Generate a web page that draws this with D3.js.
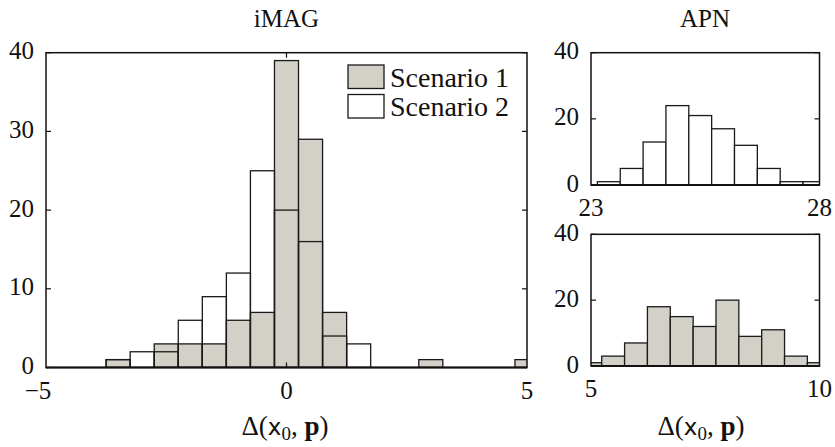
<!DOCTYPE html>
<html>
<head>
<meta charset="utf-8">
<script src="https://cdn.jsdelivr.net/npm/d3@7"></script>
<style>
  body { margin: 0; background: #fff; }
  text { font-family: "Liberation Serif", "Times New Roman", serif; fill: #111; }
</style>
</head>
<body>
<script>
// iMAG histogram: lower bin edges (width 0.5) and counts per scenario
const imagEdges = [-3.75, -3.25, -2.75, -2.25, -1.75, -1.25, -0.75, -0.25, 0.25, 0.75, 1.25, 1.75, 2.25, 2.75, 3.25, 3.75, 4.25, 4.75];
const imagScenario1 = [1, 0, 3, 3, 3, 6, 7, 39, 29, 7, 0, 0, 0, 1, 0, 0, 0, 1];
const imagScenario2 = [1, 2, 2, 6, 9, 12, 25, 20, 16, 4, 3, 0, 0, 0, 0, 0, 0, 0];

// APN histograms
const apnEdges2 = [22.64, 23.14, 23.64, 24.14, 24.64, 25.14, 25.64, 26.14, 26.64, 27.14, 27.64];
const apnScenario2 = [0, 1, 5, 13, 24, 21, 17, 12, 5, 1, 1];
const apnEdges1 = [4.735, 5.235, 5.735, 6.235, 6.735, 7.235, 7.735, 8.235, 8.735, 9.235, 9.735];
const apnScenario1 = [1, 3, 7, 18, 15, 12, 20, 9, 11, 3, 1];

const binWidth = 0.5;
const legendLabels = ["Scenario 1", "Scenario 2"];

const width = 835, height = 447;
const gray = "#d3d0c8";

const svg = d3.select("body").append("svg")
    .attr("width", width)
    .attr("height", height)
    .attr("viewBox", [0, 0, width, height]);

let clipId = 0;

function panel({xDomain, xRange, yDomain, yRange, xTicks, yTicks, xMirrorTicks = []}) {
    const x = d3.scaleLinear(xDomain, xRange);
    const y = d3.scaleLinear(yDomain, yRange);
    const g = svg.append("g");
    const id = "clip" + (clipId++);
    g.append("clipPath").attr("id", id)
        .append("rect")
        .attr("x", xRange[0]).attr("y", yRange[1])
        .attr("width", xRange[1] - xRange[0])
        .attr("height", yRange[0] - yRange[1]);
    const bars = g.append("g").attr("clip-path", `url(#${id})`);

    // left y tick labels
    g.append("g").selectAll("text")
        .data(yTicks)
        .join("text")
        .attr("x", xRange[0] - 12)
        .attr("y", d => y(d) - 2)
        .attr("text-anchor", "end")
        .attr("dominant-baseline", "central")
        .style("font-size", "25px")
        .text(d => d);

    // x tick labels (negative ones sit a little left, the minus is wide)
    g.append("g").selectAll("text")
        .data(xTicks)
        .join("text")
        .attr("x", d => x(d) - (d < 0 ? 8 : 0))
        .attr("y", yRange[0] + 31)
        .attr("text-anchor", "middle")
        .style("font-size", "25px")
        .text(d => d < 0 ? "\u2212" + Math.abs(d) : d);

    return {x, y, g, bars, draw() {
        // inward ticks on all four sides
        const t = g.append("g").attr("stroke", "#111").attr("stroke-width", 1.2);
        yTicks.forEach(v => {
            t.append("line").attr("x1", xRange[0]).attr("x2", xRange[0] + 5).attr("y1", y(v)).attr("y2", y(v));
            t.append("line").attr("x1", xRange[1]).attr("x2", xRange[1] - 5).attr("y1", y(v)).attr("y2", y(v));
        });
        xMirrorTicks.forEach(v => {
            t.append("line").attr("x1", x(v)).attr("x2", x(v)).attr("y1", yRange[1]).attr("y2", yRange[1] + 5);
            t.append("line").attr("x1", x(v)).attr("x2", x(v)).attr("y1", yRange[0]).attr("y2", yRange[0] - 5);
        });
        g.append("rect")
            .attr("x", xRange[0]).attr("y", yRange[1])
            .attr("width", xRange[1] - xRange[0])
            .attr("height", yRange[0] - yRange[1])
            .attr("fill", "none")
            .attr("stroke", "#111")
            .attr("stroke-width", 1.5);
        g.append("line")
            .attr("x1", xRange[0]).attr("x2", xRange[1])
            .attr("y1", yRange[0]).attr("y2", yRange[0])
            .attr("stroke", "#111").attr("stroke-width", 2.2);
    }};
}

function histBars(p, edges, counts, fill) {
    const data = edges.map((e, i) => ({x0: e, n: counts[i]})).filter(d => d.n > 0);
    p.bars.append("g").selectAll("rect")
        .data(data)
        .join("rect")
        .attr("x", d => p.x(d.x0))
        .attr("y", d => p.y(d.n))
        .attr("width", d => p.x(d.x0 + binWidth) - p.x(d.x0))
        .attr("height", d => p.y(0) - p.y(d.n))
        .attr("fill", fill)
        .attr("stroke", "#1a1a1a")
        .attr("stroke-width", 1.3);
}

function xLabel(cx, cy) {
    const t = svg.append("text")
        .attr("x", cx).attr("y", cy)
        .attr("text-anchor", "middle")
        .style("font-size", "27px");
    t.append("tspan").text("\u0394(");
    t.append("tspan").style("font-family", "'DejaVu Sans', sans-serif").style("font-size", "23px").text("x");
    t.append("tspan").attr("dy", 5).style("font-size", "19px").text("0");
    t.append("tspan").attr("dy", -5).text(", ");
    t.append("tspan").style("font-weight", "bold").text("p");
    t.append("tspan").text(")");
}

// iMAG panel
const imagPanel = panel({
    xDomain: [-5, 5], xRange: [46, 527],
    yDomain: [0, 40], yRange: [367.5, 52.7],
    xTicks: [-5, 0, 5], yTicks: [0, 10, 20, 30, 40], xMirrorTicks: [0]
});
histBars(imagPanel, imagEdges, imagScenario1, gray);
histBars(imagPanel, imagEdges, imagScenario2, "none");
imagPanel.draw();

// legend
const legend = svg.append("g");
legendLabels.forEach((label, i) => {
    legend.append("rect")
        .attr("x", 348).attr("y", 65 + i * 29.5)
        .attr("width", 36).attr("height", 23.5)
        .attr("fill", i === 0 ? gray : "#fff")
        .attr("stroke", "#1a1a1a").attr("stroke-width", 1.3);
    legend.append("text")
        .attr("x", 390).attr("y", 86.5 + i * 29.5)
        .style("font-size", "28px")
        .text(label);
});

// APN panels
const apnTop = panel({
    xDomain: [23, 28], xRange: [591, 819.5],
    yDomain: [0, 40], yRange: [185, 52.7],
    xTicks: [23, 28], yTicks: [0, 20, 40]
});
histBars(apnTop, apnEdges2, apnScenario2, "#fff");
apnTop.draw();

const apnBottom = panel({
    xDomain: [5, 10], xRange: [591, 819.5],
    yDomain: [0, 40], yRange: [366, 234.3],
    xTicks: [5, 10], yTicks: [0, 20, 40]
});
histBars(apnBottom, apnEdges1, apnScenario1, gray);
apnBottom.draw();

// titles and axis labels
svg.append("text").attr("x", 286.5).attr("y", 27).attr("text-anchor", "middle")
    .style("font-size", "25px").text("iMAG");
svg.append("text").attr("x", 705).attr("y", 27).attr("text-anchor", "middle")
    .style("font-size", "25px").text("APN");
xLabel(285, 435);
xLabel(701, 435);
</script>
</body>
</html>
